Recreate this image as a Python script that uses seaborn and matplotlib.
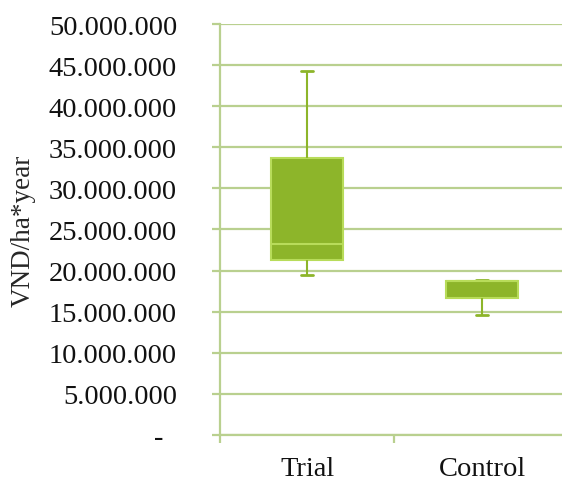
import matplotlib
matplotlib.use("Agg")
import matplotlib.pyplot as plt
from matplotlib.ticker import FixedLocator, FuncFormatter
import seaborn as sns
import pandas as pd

# Five-number summaries (min, Q1, median, Q3, max), VND per ha per year
categories = ["Trial", "Control"]
trial_values = [19_500_000, 21_300_000, 23_200_000, 33_700_000, 44_250_000]
control_values = [14_650_000, 16_700_000, 18_700_000, 18_700_000, 18_800_000]
y_ticks = list(range(0, 50_000_001, 5_000_000))
y_label = "VND/ha*year"

df = pd.DataFrame({
    "group": [categories[0]] * len(trial_values) + [categories[1]] * len(control_values),
    "value": trial_values + control_values,
})

FILL = "#8db52a"
EDGE = "#b8dc5a"
GRID = "#b9d08f"

sns.set_theme(style="white")
plt.rcParams["font.family"] = ["Liberation Serif", "DejaVu Serif"]

fig = plt.figure(figsize=(5.62, 4.81), dpi=100)
ax = fig.add_axes([0.3906, 0.0936, 0.6227, 0.8544])

sns.boxplot(
    data=df, x="group", y="value", order=categories, ax=ax,
    whis=(0, 100), width=0.41, color=FILL, saturation=1, showfliers=False,
    boxprops=dict(facecolor=FILL, edgecolor=EDGE, linewidth=1.5),
    medianprops=dict(color=EDGE, linewidth=1.5),
    whiskerprops=dict(color=FILL, linewidth=1.5),
    capprops=dict(color=FILL, linewidth=2),
    capwidths=0.065,
)

ax.set_ylim(0, 50_000_000)
ax.set_xlim(-0.5, 1.5)
ax.yaxis.set_major_locator(FixedLocator(y_ticks))


def fmt(v, pos):
    # accounting-style: zero shown as a dash
    if v == 0:
        return "-  "
    return f"{int(v):,}".replace(",", ".")


ax.yaxis.set_major_formatter(FuncFormatter(fmt))
ax.yaxis.grid(True, color=GRID, linewidth=1.6)
ax.set_axisbelow(True)

for side in ("top", "right"):
    ax.spines[side].set_visible(False)
for side in ("left", "bottom"):
    ax.spines[side].set_color(GRID)
    ax.spines[side].set_linewidth(1.6)

ax.tick_params(axis="y", which="major", direction="out", length=5.5, width=1.6,
               color=GRID, labelsize=20.5, pad=25, left=True)
ax.tick_params(axis="x", which="major", length=0, labelsize=20.5, pad=15)
ax.set_xticks([-0.5, 0.5, 1.5], minor=True)
ax.tick_params(axis="x", which="minor", direction="out", length=6, width=1.6,
               color=GRID, bottom=True)

ax.set_xlabel("")
ax.set_ylabel(y_label, fontsize=19.5)
ax.yaxis.set_label_coords(-0.525, 0.5)
for lbl in ax.get_yticklabels() + ax.get_xticklabels():
    lbl.set_color("#111111")

fig.savefig("out.png", dpi=100)
